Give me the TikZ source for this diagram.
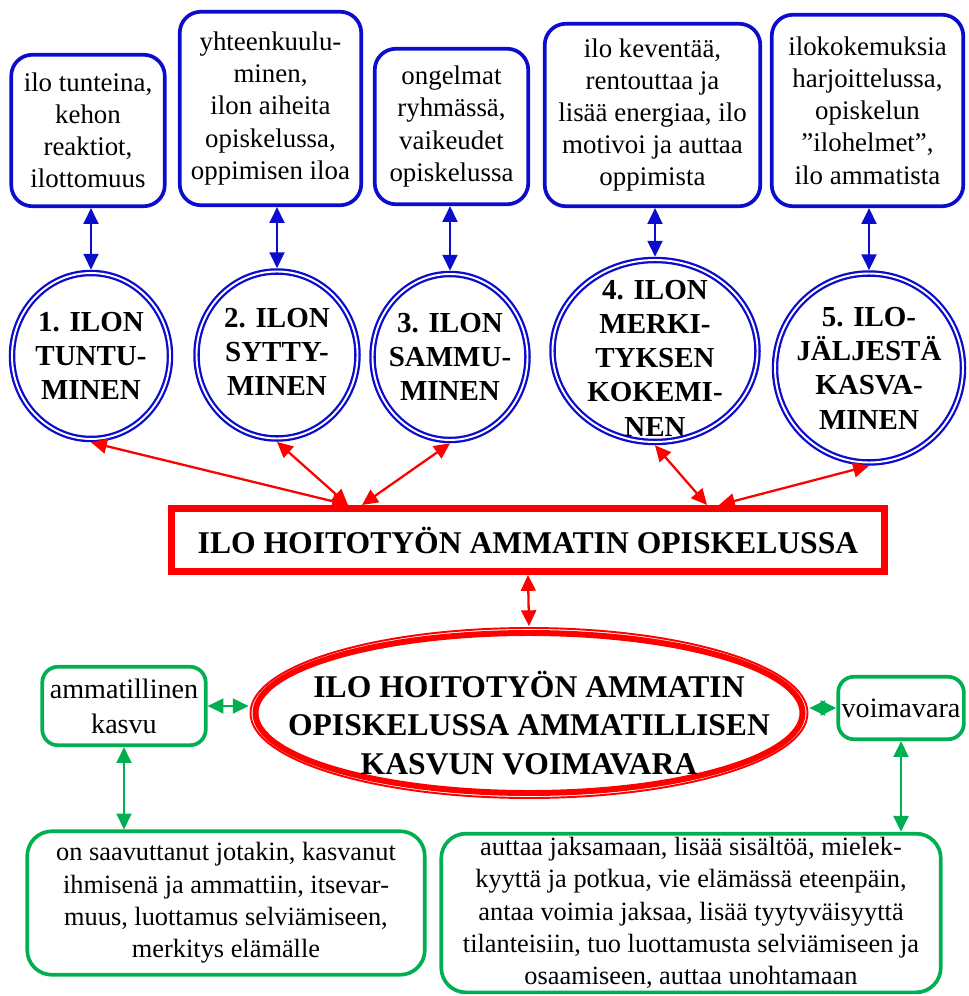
\documentclass[tikz,border=0pt]{standalone}
\usepackage{fontspec}
\setmainfont{Liberation Serif}
\usepackage{tikz}
\usetikzlibrary{shapes.geometric, arrows.meta}
\definecolor{cBlue}{HTML}{0C0CCC}
\definecolor{cRed}{HTML}{FF0000}
\definecolor{cGreen}{HTML}{00B050}
\tikzset{
  descbox/.style={
    rectangle, rounded corners=12pt, draw=cBlue, line width=2.1pt,
    align=center, inner sep=2pt, font=\fontsize{15.3}{18.3}\selectfont
  },
  stage/.style={
    ellipse, draw=cBlue, line width=1.3pt, double, double distance=1.1pt,
    inner sep=0pt, outer sep=1.9pt
  },
  stagetxt/.style={align=center, inner sep=0pt,
    font=\bfseries\fontsize{16.5}{19.5}\selectfont},
  mainbox/.style={
    rectangle, draw=cRed, line width=4pt, inner sep=0pt,
    font=\bfseries\fontsize{18}{22}\selectfont
  },
  core/.style={ellipse, draw=cRed, line width=3.4pt, inner sep=0pt, outer sep=3.9pt},
  coretxt/.style={align=center, inner sep=0pt,
    font=\bfseries\fontsize{18}{22}\selectfont},
  gbox/.style={
    rectangle, rounded corners=9pt, draw=cGreen, line width=2.1pt,
    align=center, inner sep=2pt, font=\fontsize{16}{20}\selectfont
  },
  ginfo/.style={gbox, rounded corners=14pt, font=\fontsize{15}{18.4}\selectfont},
  arrow/.style={{Triangle[length=9pt,width=8.5pt]}-{Triangle[length=9pt,width=8.5pt]},
    line width=1.3pt, #1},
  arrow/.default=cBlue,
}

\begin{document}
\begin{tikzpicture}
  \useasboundingbox (0,0) rectangle (19.36,-19.92);

  \node[descbox, minimum width=3.07cm, minimum height=3.03cm] (desc1) at (1.76,-2.61)
    {ilo tunteina,\\kehon\\reaktiot,\\ilottomuus};
  \node[descbox, minimum width=3.63cm, minimum height=3.87cm] (desc2) at (5.41,-2.17)
    {yhteenkuulu-\\minen,\\ilon aiheita\\opiskelussa,\\oppimisen iloa};
  \node[descbox, minimum width=3.07cm, minimum height=3.11cm] (desc3) at (9.03,-2.53)
    {ongelmat\\ryhmässä,\\vaikeudet\\opiskelussa};
  \node[descbox, minimum width=4.31cm, minimum height=3.65cm] (desc4) at (13.05,-2.30)
    {ilo keventää,\\rentouttaa ja\\lisää energiaa, ilo\\motivoi ja auttaa\\oppimista};
  \node[descbox, minimum width=3.83cm, minimum height=3.83cm] (desc5) at (17.35,-2.21)
    {ilokokemuksia\\harjoittelussa,\\opiskelun\\”ilohelmet”,\\ilo ammatista};

  \node[stage, minimum width=3.16cm, minimum height=3.32cm] (stage1) at (1.82,-7.12) {};
  \node[stage, minimum width=3.22cm, minimum height=3.34cm] (stage2) at (5.54,-7.10) {};
  \node[stage, minimum width=3.10cm, minimum height=3.32cm] (stage3) at (9.00,-7.14) {};
  \node[stage, minimum width=4.10cm, minimum height=3.64cm] (stage4) at (13.10,-7.02) {};
  \node[stage, minimum width=3.76cm, minimum height=3.78cm] (stage5) at (17.38,-7.36) {};

  \node[stagetxt] (name1) at (stage1) {1. ILON\\TUNTU-\\MINEN};
  \node[stagetxt] (name2) at ([yshift=0.06cm]stage2.center) {2. ILON\\SYTTY-\\MINEN};
  \node[stagetxt] (name3) at (stage3) {3. ILON\\SAMMU-\\MINEN};
  \node[stagetxt] (name4) at ([yshift=-0.14cm]stage4.center) {4. ILON\\MERKI-\\TYKSEN\\KOKEMI-\\NEN};
  \node[stagetxt] (name5) at (stage5) {5. ILO-\\JÄLJESTÄ\\KASVA-\\MINEN};

  \foreach \i in {1,...,5}
    \draw[arrow] (stage\i.north) -- (stage\i.north |- desc\i.south);

  \node[mainbox, minimum width=14.26cm, minimum height=1.26cm] (ilo) at (10.56,-10.80)
    {ILO HOITOTYÖN AMMATIN OPISKELUSSA};
  \coordinate (hubA) at ([xshift=-3.60cm]ilo.north);
  \coordinate (hubB) at ([xshift=-3.32cm]ilo.north);
  \coordinate (hubC) at ([xshift=3.58cm]ilo.north);
  \coordinate (hubD) at ([xshift=3.82cm]ilo.north);

  \draw[arrow=cRed] (hubA) -- (stage1.south);
  \draw[arrow=cRed] (hubA) -- (stage2.south);
  \draw[arrow=cRed] (hubB) -- (stage3.south);
  \draw[arrow=cRed] (hubC) -- (stage4.south);
  \draw[arrow=cRed] (hubD) -- (stage5.south);

  \node[core, minimum width=10.94cm, minimum height=3.20cm] (core) at (10.58,-14.26) {};
  \draw[cRed, line width=1.1pt] (core.center) ellipse [x radius=5.57cm, y radius=1.70cm];
  \node[coretxt] (coretext) at ([yshift=-0.20cm]core.center)
    {ILO HOITOTYÖN AMMATIN\\OPISKELUSSA AMMATILLISEN\\KASVUN VOIMAVARA};
  \draw[arrow=cRed] (ilo.south) -- (core.north);

  \node[gbox, minimum width=3.27cm, minimum height=1.57cm] (kasvu) at (2.48,-14.12)
    {ammatillinen\\kasvu};
  \node[gbox, minimum width=2.45cm, minimum height=1.25cm] (vara) at (18.02,-14.16)
    {voimavara};
  \node[ginfo, minimum width=7.95cm, minimum height=2.87cm] (kasvuinfo) at (4.52,-18.06)
    {on saavuttanut jotakin, kasvanut\\ihmisenä ja ammattiin, itsevar-\\muus, luottamus selviämiseen,\\merkitys elämälle};
  \node[ginfo, minimum width=9.99cm, minimum height=3.13cm] (varainfo) at (13.82,-18.26)
    {auttaa jaksamaan, lisää sisältöä, mielek-\\kyyttä ja potkua, vie elämässä eteenpäin,\\antaa voimia jaksaa, lisää tyytyväisyyttä\\tilanteisiin, tuo luottamusta selviämiseen ja\\osaamiseen, auttaa unohtamaan};

  \draw[arrow=cGreen] (kasvu.east) -- (kasvu.east -| core.west);
  \draw[arrow=cGreen] (vara.west) -- (vara.west -| core.east);
  \draw[arrow=cGreen] (kasvu.south) -- (kasvu.south |- kasvuinfo.north);
  \draw[arrow=cGreen] (vara.south) -- (vara.south |- varainfo.north);

\end{tikzpicture}
\end{document}
